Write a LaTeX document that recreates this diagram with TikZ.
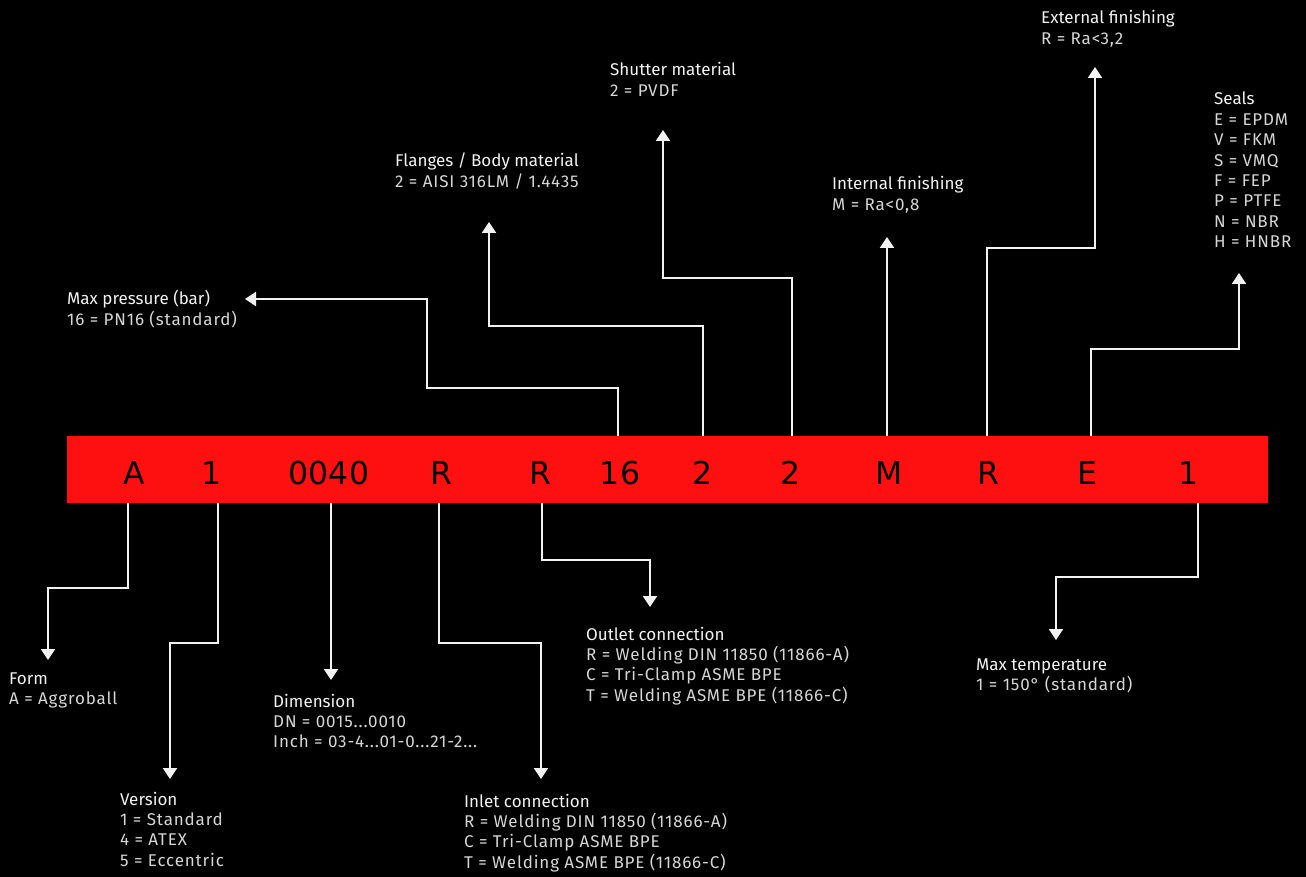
\documentclass[tikz,border=0pt]{standalone}
\usepackage{fontspec}
\setmainfont{Fira Sans}
\newfontfamily\valfont[LetterSpace=5]{Fira Sans}
\newfontfamily\codefont{DejaVu Sans}
\usetikzlibrary{arrows.meta}
\definecolor{barred}{HTML}{FF1010}
\definecolor{linec}{HTML}{F2F2F2}
\definecolor{titlec}{HTML}{F2F2F2}
\definecolor{valc}{HTML}{D6D6D6}
\newcommand{\lbltitle}[1]{{\rmfamily\textcolor{titlec}{#1}}}
\begin{document}
\begin{tikzpicture}[x=1pt,y=-1pt,
  conn/.style={draw=linec,line width=2pt,-{Triangle[width=14pt,length=11pt]}},
  lbl/.style={anchor=base west,inner sep=0pt,text=valc,font=\valfont\fontsize{17}{20.4}\selectfont},
  code/.style={anchor=base,inner sep=0pt,text=black,font=\codefont\fontsize{31.5}{36}\selectfont}]
\fill[black] (0,0) rectangle (1306,877);
\useasboundingbox (0,0) rectangle (1306,877);
% bar
\node[fill=barred,draw=none,minimum width=1201pt,minimum height=67pt,inner sep=0pt,anchor=north west] (bar) at (67,436) {};
\node[code] (cA) at (134,484) {A};
\node[code] (c1) at (212,484) {1};
\node[code] (cDim) at (329,484) {0040};
\node[code] (cIn) at (441,484) {R};
\node[code] (cOut) at (540,484) {R};
\node[code] (cP) at (620,484) {16};
\node[code] (cFl) at (703,484) {2};
\node[code] (cSh) at (791,484) {2};
\node[code] (cInt) at (889,484) {M};
\node[code] (cExt) at (988,484) {R};
\node[code] (cSe) at (1087,484) {E};
\node[code] (cT) at (1189,484) {1};
% labels
\node[lbl] (lForm) at (9,684) {\begin{tabular}[t]{@{}l@{}}\lbltitle{Form}\\A = Aggroball\end{tabular}};
\node[lbl] (lVer) at (120,805) {\begin{tabular}[t]{@{}l@{}}\lbltitle{Version}\\1 = Standard\\4 = ATEX\\5 = Eccentric\end{tabular}};
\node[lbl] (lDim) at (273,707) {\begin{tabular}[t]{@{}l@{}}\lbltitle{Dimension}\\DN = 0015...0010\\Inch = 03-4...01-0...21-2...\end{tabular}};
\node[lbl] (lIn) at (464,807) {\begin{tabular}[t]{@{}l@{}}\lbltitle{Inlet connection}\\R = Welding DIN 11850 (11866-A)\\C = Tri-Clamp ASME BPE\\T = Welding ASME BPE (11866-C)\end{tabular}};
\node[lbl] (lOut) at (586,640) {\begin{tabular}[t]{@{}l@{}}\lbltitle{Outlet connection}\\R = Welding DIN 11850 (11866-A)\\C = Tri-Clamp ASME BPE\\T = Welding ASME BPE (11866-C)\end{tabular}};
\node[lbl] (lTemp) at (976,670) {\begin{tabular}[t]{@{}l@{}}\lbltitle{Max temperature}\\1 = 150° (standard)\end{tabular}};
\node[lbl] (lP) at (67,305) {\begin{tabular}[t]{@{}l@{}}\lbltitle{Max pressure (bar)}\\16 = PN16 (standard)\end{tabular}};
\node[lbl] (lFl) at (395,167) {\begin{tabular}[t]{@{}l@{}}\lbltitle{Flanges / Body material}\\2 = AISI 316LM / 1.4435\end{tabular}};
\node[lbl] (lSh) at (610,76) {\begin{tabular}[t]{@{}l@{}}\lbltitle{Shutter material}\\2 = PVDF\end{tabular}};
\node[lbl] (lInt) at (832,190) {\begin{tabular}[t]{@{}l@{}}\lbltitle{Internal finishing}\\M = Ra<0,8\end{tabular}};
\node[lbl] (lExt) at (1041,24) {\begin{tabular}[t]{@{}l@{}}\lbltitle{External finishing}\\R = Ra<3,2\end{tabular}};
\node[lbl] (lSe) at (1214,105) {\begin{tabular}[t]{@{}l@{}}\lbltitle{Seals}\\E = EPDM\\V = FKM\\S = VMQ\\F = FEP\\P = PTFE\\N = NBR\\H = HNBR\end{tabular}};
% arrow tips
\coordinate (tForm) at (48,660);
\coordinate (tVer) at (170,779);
\coordinate (tDim) at (331,680);
\coordinate (tIn) at (541,779);
\coordinate (tOut) at (650,607);
\coordinate (tTemp) at (1056,640);
\coordinate (tP) at (245,299);
\coordinate (tFl) at (489,222);
\coordinate (tSh) at (663,130);
\coordinate (tInt) at (887,237);
\coordinate (tExt) at (1095,67);
\coordinate (tSe) at (1239,273);
% connectors below
\draw[conn] (bar.south -| 128,0) |- (48,588) -- (tForm);
\draw[conn] (bar.south -| 218,0) |- (170,643) -- (tVer);
\draw[conn] (bar.south -| 331,0) -- (tDim);
\draw[conn] (bar.south -| 439,0) |- (541,643) -- (tIn);
\draw[conn] (bar.south -| 542,0) |- (650,560) -- (tOut);
\draw[conn] (bar.south -| 1198,0) |- (1056,577) -- (tTemp);
% connectors above
\draw[conn] (bar.north -| 618,0) |- (427,388) |- (tP);
\draw[conn] (bar.north -| 703,0) |- (489,326) -- (tFl);
\draw[conn] (bar.north -| 792,0) |- (663,278) -- (tSh);
\draw[conn] (bar.north -| 887,0) -- (tInt);
\draw[conn] (bar.north -| 987,0) |- (1095,248) -- (tExt);
\draw[conn] (bar.north -| 1091,0) |- (1239,349) -- (tSe);
\end{tikzpicture}
\end{document}
